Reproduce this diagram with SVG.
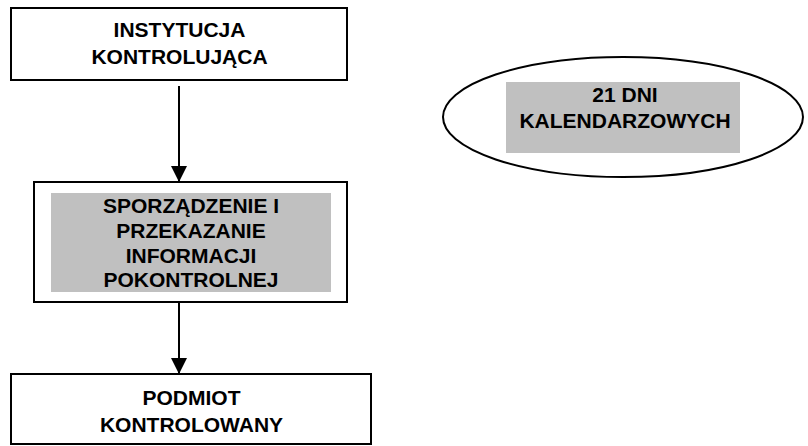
<svg xmlns="http://www.w3.org/2000/svg" width="808" height="446" viewBox="0 0 808 446">
  <style>
    .box { fill: #ffffff; stroke: #000000; stroke-width: 2; }
    .shade { fill: #c0c0c0; stroke: none; }
    .lbl { font-family: "Liberation Sans", Arial, sans-serif; font-weight: bold; font-size: 21px; fill: #000000; text-anchor: middle; }
    .conn { stroke: #000000; stroke-width: 2; fill: none; }
  </style>
  <defs>
    <marker id="arrow" viewBox="0 0 16 16" refX="16" refY="8" markerWidth="16" markerHeight="16" markerUnits="userSpaceOnUse" orient="auto">
      <path d="M0,0 L16,8 L0,16 Z" fill="#000000"/>
    </marker>
  </defs>
  <rect width="808" height="446" fill="#ffffff"/>

  <g id="instytucja">
    <rect class="box" x="11" y="8" width="336" height="72"/>
    <text class="lbl" x="179.5" y="37">INSTYTUCJA</text>
    <text class="lbl" x="179.5" y="64">KONTROLUJĄCA</text>
  </g>

  <g id="sporzadzenie">
    <rect class="box" x="34" y="182" width="313" height="120"/>
    <rect class="shade" x="51" y="193" width="280" height="99"/>
    <text class="lbl" x="191" y="213">SPORZĄDZENIE I</text>
    <text class="lbl" x="191" y="238">PRZEKAZANIE</text>
    <text class="lbl" x="191" y="263">INFORMACJI</text>
    <text class="lbl" x="191" y="287">POKONTROLNEJ</text>
  </g>

  <g id="podmiot">
    <rect class="box" x="11" y="374" width="360" height="70"/>
    <text class="lbl" x="191.5" y="405">PODMIOT</text>
    <text class="lbl" x="191.5" y="432">KONTROLOWANY</text>
  </g>

  <g id="termin">
    <ellipse class="box" cx="623" cy="117" rx="180" ry="60"/>
    <rect class="shade" x="506" y="82" width="234" height="71"/>
    <text class="lbl" x="625" y="102">21 DNI</text>
    <text class="lbl" x="625" y="128">KALENDARZOWYCH</text>
  </g>

  <g id="connectors">
    <line class="conn" x1="179" y1="86" x2="179" y2="182" marker-end="url(#arrow)"/>
    <line class="conn" x1="179" y1="302" x2="179" y2="374" marker-end="url(#arrow)"/>
  </g>
</svg>
